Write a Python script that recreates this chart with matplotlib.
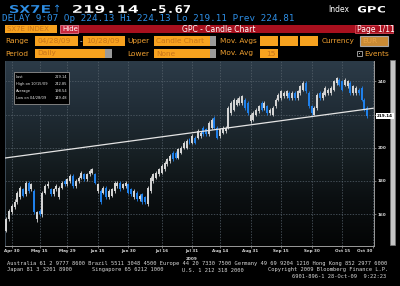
import numpy as np
import matplotlib
matplotlib.use("Agg")
import matplotlib.pyplot as plt
from matplotlib.patches import Rectangle, PathPatch
from matplotlib.textpath import TextPath
from matplotlib.font_manager import FontProperties
from matplotlib.transforms import Affine2D
from matplotlib.colors import LinearSegmentedColormap

# ---- data (SX7E daily, 28 Apr - 28 Oct 2009) ----
start_date = "2009-04-28"
holidays = ["2009-05-01"]

opens = [150, 157, 161, 164, 167, 170, 175, 172, 179, 175,
         174, 157, 162, 160, 173, 177, 175, 172, 175, 170,
         176, 180, 178, 180, 183, 177, 180, 182, 184, 181,
         184, 185, 184, 174, 174, 173, 176, 170, 171, 174,
         177, 179, 176, 177, 178, 175, 170, 173, 169, 172,
         170, 166, 174, 180, 182, 184, 185, 187, 190, 192,
         197, 197, 194, 197, 200, 200, 205, 203, 206, 206,
         207, 212, 211, 208, 212, 218, 212, 207, 209, 210,
         212, 221, 223, 226, 227, 227, 229, 227, 216, 217,
         220, 222, 227, 224, 225, 221, 220, 225, 229, 230,
         231, 231, 233, 230, 233, 230, 233, 235, 239, 233,
         225, 220, 224, 233, 230, 232, 233, 233, 235, 239,
         241, 240, 238, 237, 239, 233, 233, 235, 236, 229,
         224]
closes = [157, 162, 165, 167, 173, 176, 171, 179, 174, 178,
          161, 161, 160, 173, 177, 178, 172, 175, 177, 176,
          179, 178, 181, 183, 177, 180, 182, 185, 181, 184,
          186, 187, 179, 178, 167, 176, 170, 174, 175, 179,
          179, 175, 178, 179, 173, 172, 174, 169, 171, 167,
          167, 176, 182, 184, 185, 187, 189, 191, 193, 195,
          193, 194, 199, 200, 203, 204, 203, 207, 203, 210,
          209, 208, 208, 215, 217, 212, 206, 211, 212, 212,
          224, 227, 229, 229, 230, 231, 224, 221, 220, 221,
          223, 225, 223, 227, 221, 223, 224, 229, 232, 234,
          233, 234, 230, 233, 230, 234, 237, 239, 234, 225,
          221, 224, 232, 230, 233, 236, 235, 236, 240, 242,
          238, 235, 241, 240, 233, 237, 236, 233, 229, 223,
          219.14]
highs = [158, 163, 166, 169, 174, 177, 176, 180, 180, 179,
         175, 162, 163, 174, 178, 180, 176, 176, 178, 177,
         180, 181, 182, 184, 184, 181, 183, 186, 185, 185,
         187, 188, 185, 179, 175, 177, 177, 175, 176, 180,
         180, 180, 179, 180, 179, 176, 175, 174, 172, 173,
         171, 177, 183, 185, 186, 188, 190, 192, 194, 196,
         198, 198, 200, 201, 204, 205, 206, 208, 207, 211,
         210, 213, 212, 216, 218, 219, 213, 212, 213, 213,
         225, 228, 230, 230, 231, 232, 230, 228, 221, 222,
         224, 226, 228, 228, 226, 224, 225, 230, 233, 235,
         234, 235, 234, 234, 234, 235, 238, 240, 240, 234,
         226, 225, 233, 234, 234, 237, 236, 237, 241, 242.85,
         242, 241, 242, 241, 240, 238, 237, 236, 237, 230,
         225]
lows = [149.48, 156, 160, 163, 166, 169, 170, 171, 173, 174,
        160, 155, 159, 158, 172, 176, 171, 171, 174, 169,
        175, 177, 177, 179, 176, 176, 179, 181, 180, 180,
        183, 184, 178, 173, 166, 172, 169, 169, 170, 173,
        176, 174, 175, 176, 172, 171, 169, 168, 168, 166,
        166, 165, 173, 179, 181, 183, 184, 186, 189, 191,
        192, 193, 193, 196, 199, 199, 202, 202, 202, 205,
        206, 207, 207, 207, 211, 211, 205, 206, 208, 209,
        211, 220, 222, 225, 226, 226, 223, 220, 215, 216,
        219, 221, 222, 223, 220, 220, 219, 224, 228, 229,
        230, 230, 229, 229, 229, 229, 232, 234, 233, 224,
        220, 219.5, 223, 229, 229, 231, 232, 232, 234, 238,
        237, 234, 237, 236, 232, 232, 232, 232, 228, 222,
        218]

# hand-drawn trend line (trading-day index, price)
trend_x = [-0.5, 132.2]
trend_y = [193.8, 223.8]

tick_dates = ["2009-04-30", "2009-05-15", "2009-05-29", "2009-06-15",
              "2009-06-30", "2009-07-16", "2009-07-31", "2009-08-14",
              "2009-08-31", "2009-09-15", "2009-09-30", "2009-10-15",
              "2009-10-30"]
tick_labels = ["Apr 30", "May 15", "May 29", "Jun 15", "Jun 30", "Jul 16",
               "Jul 31", "Aug 14", "Aug 31", "Sep 15", "Sep 30", "Oct 15",
               "Oct 30"]
ytick_values = [160, 180, 200, 220, 240]
ytick_labels = ["160", "180", "200", "", "240"]

legend_labels = ["Last", "High on 10/15/09", "Average", "Low on 04/28/09"]
legend_values = ["219.14", "242.85", "198.54", "149.48"]
last_label = "219.14"

footer_line1 = ("Australia 61 2 9777 8600 Brazil 5511 3048 4500 Europe 44 20 7330 7500 "
                "Germany 49 69 9204 1210 Hong Kong 852 2977 6000")
footer_line2 = ["Japan 81 3 3201 8900", "Singapore 65 6212 1000",
                "U.S. 1 212 318 2000", "Copyright 2009 Bloomberg Finance L.P."]
footer_line3 = "6901-896-1 28-Oct-09  9:22:23"

# ---- style ----
W, H = 400, 286
BLUE_TXT = "#2e8fe6"
ORANGE = "#f7a21f"
ORANGE_TXT = "#f0a030"
BOX_TXT = "#c8741a"
RED = "#a8101e"
UP = "#d4d4d4"
DOWN = "#1f80ea"
MONO = "DejaVu Sans Mono"

fig = plt.figure(figsize=(W / 100, H / 100), dpi=100, facecolor="black")

# ---- chart panel ----
ax = fig.add_axes([5 / W, 1 - 246 / H, 369 / W, 185 / H])
xlim = (-0.5, 132.5)
ylim = (140.75, 252.3)
panel = LinearSegmentedColormap.from_list(
    "panel", [(0, "#040505"), (0.25, "#0b0f11"), (0.5, "#172024"),
              (0.75, "#212d37"), (1, "#2c3b48")])
ax.imshow(np.linspace(0, 1, 256).reshape(-1, 1), cmap=panel, origin="lower",
          aspect="auto", extent=[*xlim, *ylim], zorder=0)
ax.set_xlim(*xlim)
ax.set_ylim(*ylim)

o = np.array(opens, dtype=float)
c = np.array(closes, dtype=float)
x = np.arange(len(c))
colors = np.where(c >= o, UP, DOWN)
ax.vlines(x, lows, highs, colors=colors, lw=0.6, zorder=3)
ax.bar(x, np.maximum(np.abs(c - o), 0.6), bottom=np.minimum(o, c), width=0.72,
       color=colors, lw=0, zorder=4)
ax.plot(trend_x, trend_y, color="#e4e4e4", lw=0.9, zorder=5)

tick_pos = np.busday_count(start_date, np.array(tick_dates, dtype="datetime64[D]"),
                           holidays=holidays)
ax.set_xticks(tick_pos, tick_labels)
ax.get_xticklabels()[-1].set_ha("right")
ax.yaxis.tick_right()
ax.set_yticks(ytick_values, ytick_labels)
ax.grid(True, color="#56626c", lw=0.5, linestyle=(0, (2, 2)))
ax.set_axisbelow(True)
ax.tick_params(axis="both", colors="#9a9a9a", labelcolor="#d8d8d8", labelsize=3,
               length=1.5, width=0.5, pad=1)
for lab in ax.get_xticklabels() + ax.get_yticklabels():
    lab.set_fontweight("bold")
ax.spines["top"].set_visible(False)
ax.spines["left"].set_color("#3c4a56")
ax.spines["right"].set_color("#9a9a9a")
ax.spines["bottom"].set_color("#9a9a9a")
for s in ax.spines.values():
    s.set_linewidth(0.7)

# ---- overlay in pixel coordinates for the terminal chrome ----
ov = fig.add_axes([0, 0, 1, 1], zorder=5)
ov.set_xlim(0, W)
ov.set_ylim(H, 0)
ov.axis("off")
ov.patch.set_alpha(0)


def txt(x0, y0, s, color, size, family="DejaVu Sans", **kw):
    ov.text(x0, y0, s, color=color, fontsize=size, family=family, va="center", **kw)


def box(x0, x1, y0, y1, fc, ec="none", lw=0.6):
    ov.add_patch(Rectangle((x0, y0), x1 - x0, y1 - y0, facecolor=fc, edgecolor=ec, lw=lw))


def wide_text(s, x0, x1, y0, y1, color):
    path = TextPath((0, 0), s, size=10, prop=FontProperties(family=MONO, weight="bold"))
    ext = path.get_extents()
    tr = (Affine2D().translate(-ext.x0, -ext.y0)
          .scale((x1 - x0) / ext.width, -(y1 - y0) / ext.height)
          .translate(x0, y1))
    ov.add_patch(PathPatch(tr.transform_path(path), facecolor=color, lw=0))


# header
wide_text("SX7E", 10, 50, 5, 13, BLUE_TXT)
txt(53, 9, "\u2191", BLUE_TXT, 7)
wide_text("219.14", 73, 138, 5, 13, "white")
wide_text("-5.67", 152, 190, 5, 13, "white")
txt(328, 9.5, "Index", "white", 5.5)
wide_text("GPC", 358, 385, 6, 12.5, "white")
txt(2, 18.5, "DELAY 9:07 Op 224.13 Hi 224.13 Lo 219.11 Prev 224.81", BLUE_TXT, 6.7,
    family=MONO)

# row 1: security / title bar
box(5, 57, 25, 33, ORANGE)
txt(7, 29.2, "SX7E INDEX", BOX_TXT, 5)
box(78, 393, 25, 33, RED)
box(60, 78, 25, 33, "#c8283e", ec="#e4788a")
txt(62.5, 29.2, "Hide", "white", 5)
txt(182, 29.2, "GPC - Candle Chart", "white", 5.5)
box(355, 393, 25, 33, RED, ec="#d84858")
txt(357, 29.2, "Page 1/11", "white", 5.5)

# row 2
txt(5, 41, "Range", ORANGE_TXT, 5.3)
box(35, 78, 36, 46, ORANGE)
txt(38, 41, "04/28/09", BOX_TXT, 5.3)
txt(79.5, 41, "-", "white", 5.3)
box(83, 125, 36, 46, ORANGE)
txt(86, 41, "10/28/09", BOX_TXT, 5.3)
txt(127, 41, "Upper", ORANGE_TXT, 5.3)
box(154, 210, 36, 46, ORANGE)
box(210, 216, 36, 46, "#9a9a9a")
txt(156, 41, "Candle Chart", BOX_TXT, 5.3)
txt(220, 41, "Mov. Avgs", ORANGE_TXT, 5.3)
for bx in (260, 280, 300):
    box(bx, bx + 18, 36, 46, ORANGE)
txt(322, 41, "Currency", ORANGE_TXT, 5.3)
box(360, 388, 36, 46, "#c98a34", ec="#a8a8a8", lw=0.8)
txt(362, 41, "EUR", "#e8a448", 5.3)

# row 3
txt(5, 53.5, "Period", ORANGE_TXT, 5.3)
box(35, 105, 49, 58, ORANGE)
box(105, 112, 49, 58, "#9a9a9a")
txt(37, 53.5, "Daily", BOX_TXT, 5.3)
txt(127, 53.5, "Lower", ORANGE_TXT, 5.3)
box(154, 210, 49, 58, ORANGE)
box(210, 216, 49, 58, "#9a9a9a")
txt(156, 53.5, "None", BOX_TXT, 5.3)
txt(220, 53.5, "Mov. Avg", ORANGE_TXT, 5.3)
box(260, 278, 49, 58, ORANGE)
txt(276, 53.5, "15", BOX_TXT, 5.3, ha="right")
box(357, 362, 51, 56, "black", ec="#b0b0b0", lw=0.6)
box(358.8, 360.2, 53, 54.2, "#b0b0b0")
txt(364, 53.5, "Events", ORANGE_TXT, 5.3)

# scroll bar at the right of the chart
box(390, 395, 60, 245, "#c4c4c4", ec="#7a7a7a", lw=0.5)

# legend box inside chart
box(14, 69, 72, 104, "black", ec="#909090", lw=0.6)
for k, (lab, val) in enumerate(zip(legend_labels, legend_values)):
    yy = 77.5 + 6.8 * k
    txt(16, yy, lab, "#e6e6e6", 2.6)
    txt(67, yy, val, "#e6e6e6", 2.6, ha="right")

# last price tag on the right axis
txt(377, 116, last_label, "black", 3, fontweight="bold",
    bbox=dict(boxstyle="square,pad=0.3", fc="white", ec="none"))

txt(192, 258.5, "2009", "#d8d8d8", 3, ha="center", fontweight="bold")

# footer
txt(7, 264, footer_line1, "#d8d8d8", 3.9, family=MONO)
for xx, s in zip((7, 92, 182, 268), footer_line2):
    txt(xx, 270, s, "#d8d8d8", 3.9, family=MONO)
txt(386, 276, footer_line3, "#d8d8d8", 3.9, family=MONO, ha="right")

fig.savefig("out.png", dpi=100, facecolor="black")
